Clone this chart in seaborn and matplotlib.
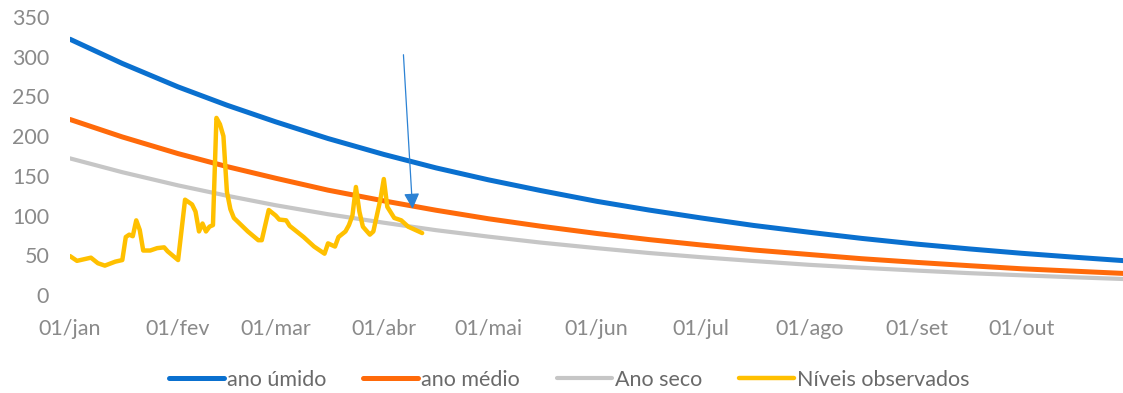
import pandas as pd
import matplotlib.pyplot as plt
import seaborn as sns

# Curvas de referência (valores lidos no início e no meio de cada mês)
datas_curvas = ["2021-01-01", "2021-01-16", "2021-02-01", "2021-02-15", "2021-03-01",
                "2021-03-16", "2021-04-01", "2021-04-16", "2021-05-01", "2021-05-16",
                "2021-06-01", "2021-06-16", "2021-07-01", "2021-07-16", "2021-08-01",
                "2021-08-16", "2021-09-01", "2021-09-16", "2021-10-01", "2021-10-16",
                "2021-10-31"]
ano_umido = [322, 291.5, 262, 239, 218, 197, 177, 160, 145, 131.5, 118, 107,
             97, 87.6, 79, 71.3, 64, 58, 52.5, 47.6, 43]
ano_medio = [221, 199, 178, 161.7, 147, 132, 118.5, 106.7, 96, 86.6, 77.5, 69.8,
             63, 56.7, 51, 45.7, 41, 36.9, 33, 30, 27]
ano_seco = [172, 154.6, 138, 125, 113, 101.7, 91, 81.6, 73.5, 66, 59, 52.9,
            47.6, 42.8, 38, 34.3, 30.7, 27.5, 24.8, 22.3, 20]

# Níveis observados (dias contados a partir de 01/jan)
dias_obs = [0, 2, 6, 8, 10, 13, 15, 16, 17, 18, 19, 20, 21, 23, 25, 27, 28, 31, 33, 35,
            36, 37, 38, 39, 40, 41, 42, 43, 44, 45, 46, 47, 51, 54, 55, 57, 59, 60, 62, 63,
            67, 70, 73, 74, 76, 77, 79, 80, 81, 82, 83, 84, 86, 87, 89, 90, 91, 93, 95, 97,
            101]
niveis_obs = [49, 43, 47, 40, 37, 42, 44, 73, 76, 74, 94, 82, 56, 56, 59, 60, 55, 44, 120, 114,
              105, 80, 90, 80, 86, 88, 223, 215, 200, 130, 108, 97, 80, 69, 69, 107, 100, 95, 94, 87,
              73, 61, 52, 65, 61, 73, 80, 88, 100, 136, 105, 86, 76, 80, 120, 146, 111, 97, 94, 86,
              78]

meses = ["jan", "fev", "mar", "abr", "mai", "jun", "jul", "ago", "set", "out"]
y_ticks = [0, 50, 100, 150, 200, 250, 300, 350]

inicio = pd.Timestamp("2021-01-01")
curvas = pd.DataFrame({
    "data": pd.to_datetime(datas_curvas),
    "ano úmido": ano_umido,
    "ano médio": ano_medio,
    "Ano seco": ano_seco,
})
obs = pd.DataFrame({
    "data": inicio + pd.to_timedelta(dias_obs, unit="D"),
    "nivel": niveis_obs,
})

sns.set_theme(style="white")
plt.rcParams["font.family"] = ["Lato", "DejaVu Sans"]

fig = plt.figure(figsize=(11.23, 3.93), dpi=100)
ax = fig.add_axes([70 / 1123, 98 / 393, 1053 / 1123, 278 / 393])

sns.lineplot(data=curvas, x="data", y="ano úmido", color="#0a70cf", linewidth=3.6,
             label="ano úmido", ax=ax)
sns.lineplot(data=curvas, x="data", y="ano médio", color="#ff6a0a", linewidth=3.6,
             label="ano médio", ax=ax)
sns.lineplot(data=curvas, x="data", y="Ano seco", color="#c6c6c6", linewidth=3.0,
             label="Ano seco", ax=ax)
sns.lineplot(data=obs, x="data", y="nivel", color="#ffc000", linewidth=3.2,
             label="Níveis observados", ax=ax)

# Seta indicando o nível atual
ax.annotate("", xy=(pd.Timestamp("2021-04-09 07:00"), 105),
            xytext=(pd.Timestamp("2021-04-06 14:00"), 306),
            arrowprops=dict(arrowstyle="-|>,head_length=0.47,head_width=0.235",
                            color="#2c82d4", lw=0.9, mutation_scale=20))

ax.set_xlim(inicio, pd.Timestamp("2021-10-30"))
ax.set_ylim(0, 350)
ax.set_yticks(y_ticks)
ax.set_xticks(pd.date_range("2021-01-01", periods=10, freq="MS"))
ax.set_xticklabels([f"01/{m}" for m in meses])
ax.set_xlabel("")
ax.set_ylabel("")
for s in ax.spines.values():
    s.set_visible(False)
ax.tick_params(axis="both", length=0, labelsize=15.5, labelcolor="#8a8a8a")
ax.tick_params(axis="x", pad=17)
ax.tick_params(axis="y", pad=15)
ax.grid(False)

ax.get_legend().remove()
handles, labels = ax.get_legend_handles_labels()
leg = fig.legend(handles, labels, loc="center", bbox_to_anchor=(0.507, 0.033), ncol=4,
                 frameon=False, fontsize=15.5, handlelength=2.55, handletextpad=0.15,
                 columnspacing=1.7)
for t in leg.get_texts():
    t.set_color("#6a6a6a")

fig.savefig("out.png", dpi=100)
